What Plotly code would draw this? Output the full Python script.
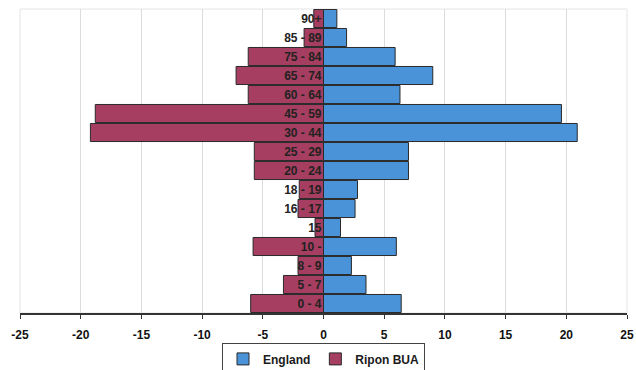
import plotly.graph_objects as go

# Age bands, bottom to top
age_bands = ["0 - 4", "5 - 7", "8 - 9", "10 -", "15", "16 - 17", "18 - 19",
             "20 - 24", "25 - 29", "30 - 44", "45 - 59", "60 - 64",
             "65 - 74", "75 - 84", "85 - 89", "90+"]

# Share of population (%) in each band
england = [6.4, 3.5, 2.3, 6.0, 1.4, 2.6, 2.8,
           7.0, 7.0, 20.9, 19.6, 6.3,
           9.0, 5.9, 1.9, 1.1]
ripon = [6.0, 3.3, 2.1, 5.8, 0.7, 2.1, 2.0,
         5.7, 5.7, 19.2, 18.8, 6.2,
         7.2, 6.2, 1.6, 0.8]

x_ticks = [-25, -20, -15, -10, -5, 0, 5, 10, 15, 20, 25]

FONT = "Liberation Sans, Arial, sans-serif"

fig = go.Figure()
fig.add_trace(go.Bar(
    y=age_bands, x=england, orientation="h", name="England",
    marker=dict(color="#4a93d8", line=dict(color="#2a2a2a", width=1)),
))
fig.add_trace(go.Bar(
    y=age_bands, x=[-v for v in ripon], orientation="h", name="Ripon BUA",
    marker=dict(color="#a53e60", line=dict(color="#2a2a2a", width=1)),
))

fig.update_layout(
    width=636, height=370,
    margin=dict(l=20, r=9, t=9, b=57, autoexpand=False),
    paper_bgcolor="white", plot_bgcolor="white",
    barmode="overlay", bargap=0.05,
    font=dict(family=FONT, color="#1a1a1a", size=12),
    showlegend=True,
    legend=dict(
        orientation="h", x=0.5, xanchor="center", y=-0.1, yanchor="top",
        bordercolor="#444", borderwidth=1, bgcolor="white",
        font=dict(size=12, family=FONT, weight="bold"),
        itemwidth=30, traceorder="normal", tracegroupgap=0,
    ),
    xaxis=dict(
        range=[-25, 25], tickvals=x_ticks,
        ticktext=[str(t) for t in x_ticks],
        showgrid=True, gridcolor="#dcdcdc", gridwidth=1,
        zeroline=False,
        showline=True, linecolor="#333", linewidth=1.5,
        ticks="outside", ticklen=4, tickcolor="#333",
        ticklabelstandoff=6,
        tickfont=dict(size=12, family=FONT, weight="bold", color="#111"),
        automargin=False,
    ),
    yaxis=dict(
        categoryorder="array", categoryarray=age_bands,
        anchor="free", position=0.5, side="left",
        showgrid=False, zeroline=False, showline=False,
        ticks="", ticklabelstandoff=2, automargin=False,
        tickfont=dict(size=12, family=FONT, weight="bold", color="#222"),
    ),
)

# light frame round the plot area
fig.add_shape(type="rect", xref="paper", yref="paper", x0=0, x1=1, y0=0, y1=1,
              line=dict(color="#e4e4e4", width=1), layer="below")

fig.write_html("out.html")
